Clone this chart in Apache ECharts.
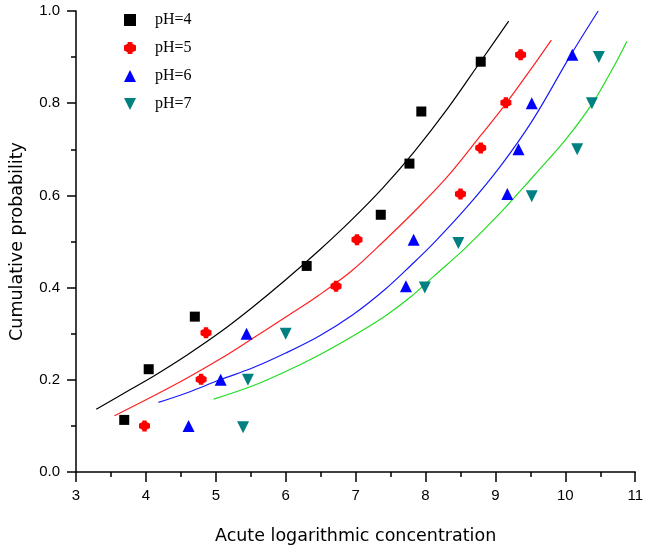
<!DOCTYPE html>
<html>
<head>
<meta charset="utf-8">
<script src="https://cdn.jsdelivr.net/npm/echarts@6/dist/echarts.min.js"></script>
<style>html,body{margin:0;padding:0;background:#fff}#c{width:646px;height:550px}</style>
</head>
<body>
<div id="c"></div>
<script>
// Observed points
var ph4X = [3.69, 4.04, 4.70, 6.30, 7.36, 7.77, 7.94, 8.79];
var ph4Y = [0.113, 0.223, 0.337, 0.447, 0.558, 0.669, 0.782, 0.890];
var ph5X = [3.98, 4.79, 4.86, 6.72, 7.02, 8.50, 8.79, 9.15, 9.36];
var ph5Y = [0.100, 0.201, 0.302, 0.403, 0.504, 0.603, 0.703, 0.801, 0.905];
var ph6X = [4.61, 5.07, 5.44, 7.72, 7.83, 9.17, 9.33, 9.52, 10.10];
var ph6Y = [0.100, 0.200, 0.300, 0.403, 0.504, 0.603, 0.700, 0.800, 0.905];
var ph7X = [5.39, 5.46, 6.00, 7.99, 8.47, 9.52, 10.17, 10.38, 10.48];
var ph7Y = [0.097, 0.200, 0.300, 0.400, 0.497, 0.598, 0.700, 0.800, 0.900];
// Fitted curves
var fit4X = [3.29, 3.79, 4.12, 4.59, 5.06, 5.53, 6.00, 6.48, 6.95, 7.40, 7.84, 8.31, 8.79, 9.19];
var fit4Y = [0.136, 0.180, 0.209, 0.254, 0.303, 0.358, 0.417, 0.481, 0.548, 0.618, 0.695, 0.787, 0.891, 0.978];
var fit5X = [3.55, 4.12, 4.59, 5.06, 5.53, 6.00, 6.48, 6.95, 7.40, 7.84, 8.31, 8.79, 9.14, 9.49, 9.80];
var fit5Y = [0.122, 0.166, 0.204, 0.245, 0.290, 0.336, 0.384, 0.437, 0.500, 0.565, 0.640, 0.730, 0.797, 0.870, 0.937];
var fit6X = [4.18, 4.59, 5.06, 5.53, 6.00, 6.48, 6.95, 7.42, 7.79, 8.12, 8.60, 9.07, 9.54, 10.06, 10.47];
var fit6Y = [0.151, 0.172, 0.200, 0.226, 0.258, 0.295, 0.340, 0.396, 0.448, 0.497, 0.576, 0.663, 0.765, 0.900, 1.000];
var fit7X = [4.97, 5.53, 6.00, 6.48, 6.95, 7.42, 7.79, 8.12, 8.55, 9.07, 9.54, 10.01, 10.39, 10.67, 10.88];
var fit7Y = [0.158, 0.187, 0.218, 0.254, 0.294, 0.338, 0.380, 0.425, 0.483, 0.562, 0.641, 0.722, 0.800, 0.873, 0.934];
var names = ['pH=4', 'pH=5', 'pH=6', 'pH=7'];
var xTitle = 'Acute logarithmic concentration';
var yTitle = 'Cumulative probability';

function zip(a, b) { return a.map(function (v, i) { return [v, b[i]]; }); }

var markerColors = ['#000000', '#ff0000', '#0000ff', '#008080'];
var lineColors = ['#000000', '#ff2020', '#1a1aff', '#22dd22'];
var symbols = [
  'rect',
  'path://M3,0 L7,0 L7,1.5 L10,3 L10,7 L7,8.5 L7,10 L3,10 L3,8.5 L0,7 L0,3 L3,1.5 Z',
  'triangle',
  'path://M0,0 L10,0 L5,10 Z'
];
var symSizes = [10, 11, 12, 12];
var pts = [zip(ph4X, ph4Y), zip(ph5X, ph5Y), zip(ph6X, ph6Y), zip(ph7X, ph7Y)];
var fits = [zip(fit4X, fit4Y), zip(fit5X, fit5Y), zip(fit6X, fit6Y), zip(fit7X, fit7Y)];

var series = [];
for (var i = 0; i < 4; i++) {
  series.push({
    name: 'fit ' + names[i], type: 'line', data: fits[i], smooth: 0.35, showSymbol: false,
    lineStyle: { color: lineColors[i], width: 1.2 }, itemStyle: { color: lineColors[i] },
    silent: true, z: 2
  });
}
for (var j = 0; j < 4; j++) {
  series.push({
    name: names[j], type: 'scatter', data: pts[j], symbol: symbols[j], symbolSize: symSizes[j],
    itemStyle: { color: markerColors[j], opacity: 1 }, z: 3
  });
}

var chart = echarts.init(document.getElementById('c'), null, { renderer: 'canvas' });
chart.setOption({
  backgroundColor: '#ffffff',
  animation: false,
  grid: { left: 71, right: 9, top: 11, bottom: 77, containLabel: false },
  legend: {
    data: names.map(function (n, k) { return { name: n, icon: symbols[k] }; }),
    orient: 'vertical', left: 119, top: 7, itemWidth: 12, itemHeight: 12, itemGap: 12,
    textStyle: { fontFamily: 'Liberation Serif', fontSize: 16, color: '#000', padding: [0, 0, 0, 14] },
    selectedMode: false
  },
  xAxis: {
    type: 'value', min: 3, max: 11, interval: 1,
    name: xTitle, nameLocation: 'middle', nameGap: 55,
    nameTextStyle: { fontFamily: 'DejaVu Sans', fontSize: 17.5, color: '#000' },
    axisLine: { show: true, onZero: false, lineStyle: { color: '#000', width: 1.5 } },
    axisTick: { show: true, inside: false, length: 10, lineStyle: { color: '#000', width: 1.5 } },
    minorTick: { show: true, splitNumber: 2, length: 5, lineStyle: { color: '#000', width: 1.5 } },
    axisLabel: { margin: 16, fontFamily: 'Liberation Sans', fontSize: 15, color: '#000' },
    splitLine: { show: false }
  },
  yAxis: {
    type: 'value', min: 0, max: 1, interval: 0.2,
    name: yTitle, nameLocation: 'middle', nameGap: 50,
    nameTextStyle: { fontFamily: 'DejaVu Sans', fontSize: 17.5, color: '#000' },
    axisLine: { show: true, onZero: false, lineStyle: { color: '#000', width: 1.5 } },
    axisTick: { show: true, inside: false, length: 9, lineStyle: { color: '#000', width: 1.5 } },
    minorTick: { show: true, splitNumber: 2, length: 5, lineStyle: { color: '#000', width: 1.5 } },
    axisLabel: { margin: 16, fontFamily: 'Liberation Sans', fontSize: 15, color: '#000',
      formatter: function (v) { return v.toFixed(1); } },
    splitLine: { show: false }
  },
  series: series
});
</script>
</body>
</html>
